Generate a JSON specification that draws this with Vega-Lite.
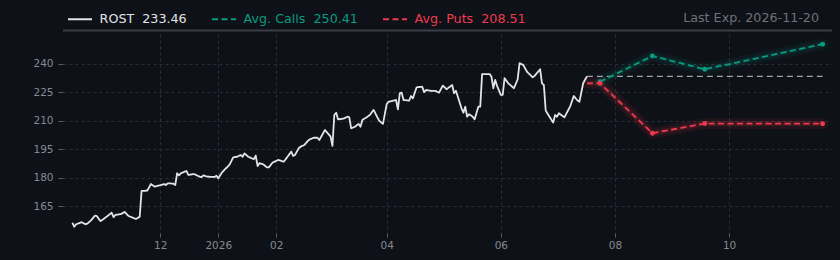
{
  "$schema": "https://vega.github.io/schema/vega-lite/v6.json",
  "autosize": {"type": "none"},
  "padding": {"left": 63, "top": 34, "right": 8, "bottom": 27},
  "width": 769,
  "height": 199,
  "background": "#0e1117",
  "config": {
    "view": {"stroke": null},
    "font": "DejaVu Sans",
    "axis": {
      "labelFont": "DejaVu Sans",
      "labelFontSize": 10.5,
      "labelColor": "#878a92",
      "gridColor": "#2a2d35",
      "gridDash": [3, 3],
      "gridWidth": 1,
      "tickColor": "#5a5d64",
      "tickSize": 5,
      "domain": false,
      "title": null
    }
  },
  "title": {
    "text": "Last Exp. 2026-11-20",
    "anchor": "end",
    "frame": "group",
    "orient": "top",
    "offset": 12,
    "dx": -13,
    "dy": 41,
    "baseline": "alphabetic",
    "font": "DejaVu Sans",
    "fontSize": 12.7,
    "fontWeight": "normal",
    "color": "#6e7179"
  },
  "datasets": {
    "series": [
      {"date": "2025-10-15", "value": 156.3, "series": "ROST\u00a0 233.46"},
      {"date": "2025-10-16", "value": 154.2, "series": "ROST\u00a0 233.46"},
      {"date": "2025-10-17", "value": 155.5, "series": "ROST\u00a0 233.46"},
      {"date": "2025-10-20", "value": 156.6, "series": "ROST\u00a0 233.46"},
      {"date": "2025-10-22", "value": 155.5, "series": "ROST\u00a0 233.46"},
      {"date": "2025-10-23", "value": 155.8, "series": "ROST\u00a0 233.46"},
      {"date": "2025-10-25", "value": 157.6, "series": "ROST\u00a0 233.46"},
      {"date": "2025-10-27", "value": 160.0, "series": "ROST\u00a0 233.46"},
      {"date": "2025-10-28", "value": 159.9, "series": "ROST\u00a0 233.46"},
      {"date": "2025-10-30", "value": 157.2, "series": "ROST\u00a0 233.46"},
      {"date": "2025-10-31", "value": 157.8, "series": "ROST\u00a0 233.46"},
      {"date": "2025-11-03", "value": 160.0, "series": "ROST\u00a0 233.46"},
      {"date": "2025-11-05", "value": 161.6, "series": "ROST\u00a0 233.46"},
      {"date": "2025-11-06", "value": 159.3, "series": "ROST\u00a0 233.46"},
      {"date": "2025-11-07", "value": 160.4, "series": "ROST\u00a0 233.46"},
      {"date": "2025-11-10", "value": 160.9, "series": "ROST\u00a0 233.46"},
      {"date": "2025-11-12", "value": 162.0, "series": "ROST\u00a0 233.46"},
      {"date": "2025-11-14", "value": 159.9, "series": "ROST\u00a0 233.46"},
      {"date": "2025-11-17", "value": 158.7, "series": "ROST\u00a0 233.46"},
      {"date": "2025-11-18", "value": 158.3, "series": "ROST\u00a0 233.46"},
      {"date": "2025-11-20", "value": 159.5, "series": "ROST\u00a0 233.46"},
      {"date": "2025-11-21", "value": 173.1, "series": "ROST\u00a0 233.46"},
      {"date": "2025-11-24", "value": 173.2, "series": "ROST\u00a0 233.46"},
      {"date": "2025-11-26", "value": 176.7, "series": "ROST\u00a0 233.46"},
      {"date": "2025-11-28", "value": 175.3, "series": "ROST\u00a0 233.46"},
      {"date": "2025-12-01", "value": 176.1, "series": "ROST\u00a0 233.46"},
      {"date": "2025-12-03", "value": 176.7, "series": "ROST\u00a0 233.46"},
      {"date": "2025-12-04", "value": 176.2, "series": "ROST\u00a0 233.46"},
      {"date": "2025-12-05", "value": 177.1, "series": "ROST\u00a0 233.46"},
      {"date": "2025-12-08", "value": 176.9, "series": "ROST\u00a0 233.46"},
      {"date": "2025-12-09", "value": 176.2, "series": "ROST\u00a0 233.46"},
      {"date": "2025-12-10", "value": 182.4, "series": "ROST\u00a0 233.46"},
      {"date": "2025-12-11", "value": 181.3, "series": "ROST\u00a0 233.46"},
      {"date": "2025-12-12", "value": 182.4, "series": "ROST\u00a0 233.46"},
      {"date": "2025-12-15", "value": 183.6, "series": "ROST\u00a0 233.46"},
      {"date": "2025-12-16", "value": 181.5, "series": "ROST\u00a0 233.46"},
      {"date": "2025-12-19", "value": 182.0, "series": "ROST\u00a0 233.46"},
      {"date": "2025-12-22", "value": 180.6, "series": "ROST\u00a0 233.46"},
      {"date": "2025-12-23", "value": 180.3, "series": "ROST\u00a0 233.46"},
      {"date": "2025-12-24", "value": 181.3, "series": "ROST\u00a0 233.46"},
      {"date": "2025-12-26", "value": 180.6, "series": "ROST\u00a0 233.46"},
      {"date": "2025-12-30", "value": 180.4, "series": "ROST\u00a0 233.46"},
      {"date": "2025-12-31", "value": 181.1, "series": "ROST\u00a0 233.46"},
      {"date": "2026-01-01", "value": 179.7, "series": "ROST\u00a0 233.46"},
      {"date": "2026-01-03", "value": 182.9, "series": "ROST\u00a0 233.46"},
      {"date": "2026-01-06", "value": 185.9, "series": "ROST\u00a0 233.46"},
      {"date": "2026-01-07", "value": 186.9, "series": "ROST\u00a0 233.46"},
      {"date": "2026-01-09", "value": 190.8, "series": "ROST\u00a0 233.46"},
      {"date": "2026-01-11", "value": 191.1, "series": "ROST\u00a0 233.46"},
      {"date": "2026-01-13", "value": 192.0, "series": "ROST\u00a0 233.46"},
      {"date": "2026-01-14", "value": 191.1, "series": "ROST\u00a0 233.46"},
      {"date": "2026-01-15", "value": 192.9, "series": "ROST\u00a0 233.46"},
      {"date": "2026-01-17", "value": 191.1, "series": "ROST\u00a0 233.46"},
      {"date": "2026-01-20", "value": 189.8, "series": "ROST\u00a0 233.46"},
      {"date": "2026-01-21", "value": 191.7, "series": "ROST\u00a0 233.46"},
      {"date": "2026-01-22", "value": 186.2, "series": "ROST\u00a0 233.46"},
      {"date": "2026-01-23", "value": 187.7, "series": "ROST\u00a0 233.46"},
      {"date": "2026-01-25", "value": 187.1, "series": "ROST\u00a0 233.46"},
      {"date": "2026-01-27", "value": 185.5, "series": "ROST\u00a0 233.46"},
      {"date": "2026-01-28", "value": 185.5, "series": "ROST\u00a0 233.46"},
      {"date": "2026-01-30", "value": 188.0, "series": "ROST\u00a0 233.46"},
      {"date": "2026-02-02", "value": 189.4, "series": "ROST\u00a0 233.46"},
      {"date": "2026-02-05", "value": 188.5, "series": "ROST\u00a0 233.46"},
      {"date": "2026-02-07", "value": 191.1, "series": "ROST\u00a0 233.46"},
      {"date": "2026-02-09", "value": 193.8, "series": "ROST\u00a0 233.46"},
      {"date": "2026-02-10", "value": 191.5, "series": "ROST\u00a0 233.46"},
      {"date": "2026-02-11", "value": 192.0, "series": "ROST\u00a0 233.46"},
      {"date": "2026-02-13", "value": 195.6, "series": "ROST\u00a0 233.46"},
      {"date": "2026-02-14", "value": 196.4, "series": "ROST\u00a0 233.46"},
      {"date": "2026-02-16", "value": 197.3, "series": "ROST\u00a0 233.46"},
      {"date": "2026-02-18", "value": 199.6, "series": "ROST\u00a0 233.46"},
      {"date": "2026-02-19", "value": 200.3, "series": "ROST\u00a0 233.46"},
      {"date": "2026-02-21", "value": 201.1, "series": "ROST\u00a0 233.46"},
      {"date": "2026-02-23", "value": 201.1, "series": "ROST\u00a0 233.46"},
      {"date": "2026-02-24", "value": 199.9, "series": "ROST\u00a0 233.46"},
      {"date": "2026-02-27", "value": 205.2, "series": "ROST\u00a0 233.46"},
      {"date": "2026-03-01", "value": 202.9, "series": "ROST\u00a0 233.46"},
      {"date": "2026-03-02", "value": 201.7, "series": "ROST\u00a0 233.46"},
      {"date": "2026-03-03", "value": 196.8, "series": "ROST\u00a0 233.46"},
      {"date": "2026-03-04", "value": 213.1, "series": "ROST\u00a0 233.46"},
      {"date": "2026-03-05", "value": 214.3, "series": "ROST\u00a0 233.46"},
      {"date": "2026-03-06", "value": 210.8, "series": "ROST\u00a0 233.46"},
      {"date": "2026-03-09", "value": 211.2, "series": "ROST\u00a0 233.46"},
      {"date": "2026-03-11", "value": 212.2, "series": "ROST\u00a0 233.46"},
      {"date": "2026-03-12", "value": 211.9, "series": "ROST\u00a0 233.46"},
      {"date": "2026-03-13", "value": 206.1, "series": "ROST\u00a0 233.46"},
      {"date": "2026-03-15", "value": 206.9, "series": "ROST\u00a0 233.46"},
      {"date": "2026-03-17", "value": 208.4, "series": "ROST\u00a0 233.46"},
      {"date": "2026-03-18", "value": 206.9, "series": "ROST\u00a0 233.46"},
      {"date": "2026-03-19", "value": 210.5, "series": "ROST\u00a0 233.46"},
      {"date": "2026-03-21", "value": 211.7, "series": "ROST\u00a0 233.46"},
      {"date": "2026-03-23", "value": 213.1, "series": "ROST\u00a0 233.46"},
      {"date": "2026-03-25", "value": 215.8, "series": "ROST\u00a0 233.46"},
      {"date": "2026-03-27", "value": 211.9, "series": "ROST\u00a0 233.46"},
      {"date": "2026-03-28", "value": 210.1, "series": "ROST\u00a0 233.46"},
      {"date": "2026-03-30", "value": 208.4, "series": "ROST\u00a0 233.46"},
      {"date": "2026-04-01", "value": 218.8, "series": "ROST\u00a0 233.46"},
      {"date": "2026-04-02", "value": 220.1, "series": "ROST\u00a0 233.46"},
      {"date": "2026-04-06", "value": 221.0, "series": "ROST\u00a0 233.46"},
      {"date": "2026-04-07", "value": 216.1, "series": "ROST\u00a0 233.46"},
      {"date": "2026-04-08", "value": 224.6, "series": "ROST\u00a0 233.46"},
      {"date": "2026-04-09", "value": 224.9, "series": "ROST\u00a0 233.46"},
      {"date": "2026-04-10", "value": 221.0, "series": "ROST\u00a0 233.46"},
      {"date": "2026-04-13", "value": 220.7, "series": "ROST\u00a0 233.46"},
      {"date": "2026-04-14", "value": 223.1, "series": "ROST\u00a0 233.46"},
      {"date": "2026-04-15", "value": 221.9, "series": "ROST\u00a0 233.46"},
      {"date": "2026-04-17", "value": 227.7, "series": "ROST\u00a0 233.46"},
      {"date": "2026-04-20", "value": 228.0, "series": "ROST\u00a0 233.46"},
      {"date": "2026-04-21", "value": 225.1, "series": "ROST\u00a0 233.46"},
      {"date": "2026-04-22", "value": 226.3, "series": "ROST\u00a0 233.46"},
      {"date": "2026-04-24", "value": 225.9, "series": "ROST\u00a0 233.46"},
      {"date": "2026-04-27", "value": 225.8, "series": "ROST\u00a0 233.46"},
      {"date": "2026-04-29", "value": 224.9, "series": "ROST\u00a0 233.46"},
      {"date": "2026-05-01", "value": 228.6, "series": "ROST\u00a0 233.46"},
      {"date": "2026-05-03", "value": 226.7, "series": "ROST\u00a0 233.46"},
      {"date": "2026-05-06", "value": 228.9, "series": "ROST\u00a0 233.46"},
      {"date": "2026-05-07", "value": 224.6, "series": "ROST\u00a0 233.46"},
      {"date": "2026-05-08", "value": 225.9, "series": "ROST\u00a0 233.46"},
      {"date": "2026-05-09", "value": 222.8, "series": "ROST\u00a0 233.46"},
      {"date": "2026-05-11", "value": 216.6, "series": "ROST\u00a0 233.46"},
      {"date": "2026-05-12", "value": 214.3, "series": "ROST\u00a0 233.46"},
      {"date": "2026-05-13", "value": 217.5, "series": "ROST\u00a0 233.46"},
      {"date": "2026-05-14", "value": 212.2, "series": "ROST\u00a0 233.46"},
      {"date": "2026-05-15", "value": 213.5, "series": "ROST\u00a0 233.46"},
      {"date": "2026-05-17", "value": 212.2, "series": "ROST\u00a0 233.46"},
      {"date": "2026-05-18", "value": 210.8, "series": "ROST\u00a0 233.46"},
      {"date": "2026-05-20", "value": 217.5, "series": "ROST\u00a0 233.46"},
      {"date": "2026-05-21", "value": 217.5, "series": "ROST\u00a0 233.46"},
      {"date": "2026-05-22", "value": 234.7, "series": "ROST\u00a0 233.46"},
      {"date": "2026-05-26", "value": 234.7, "series": "ROST\u00a0 233.46"},
      {"date": "2026-05-27", "value": 233.3, "series": "ROST\u00a0 233.46"},
      {"date": "2026-05-28", "value": 227.2, "series": "ROST\u00a0 233.46"},
      {"date": "2026-05-29", "value": 231.6, "series": "ROST\u00a0 233.46"},
      {"date": "2026-05-30", "value": 228.4, "series": "ROST\u00a0 233.46"},
      {"date": "2026-06-01", "value": 223.7, "series": "ROST\u00a0 233.46"},
      {"date": "2026-06-02", "value": 223.7, "series": "ROST\u00a0 233.46"},
      {"date": "2026-06-03", "value": 232.5, "series": "ROST\u00a0 233.46"},
      {"date": "2026-06-05", "value": 229.8, "series": "ROST\u00a0 233.46"},
      {"date": "2026-06-08", "value": 227.2, "series": "ROST\u00a0 233.46"},
      {"date": "2026-06-10", "value": 231.9, "series": "ROST\u00a0 233.46"},
      {"date": "2026-06-11", "value": 240.4, "series": "ROST\u00a0 233.46"},
      {"date": "2026-06-13", "value": 239.5, "series": "ROST\u00a0 233.46"},
      {"date": "2026-06-15", "value": 235.9, "series": "ROST\u00a0 233.46"},
      {"date": "2026-06-18", "value": 233.0, "series": "ROST\u00a0 233.46"},
      {"date": "2026-06-19", "value": 233.7, "series": "ROST\u00a0 233.46"},
      {"date": "2026-06-22", "value": 237.2, "series": "ROST\u00a0 233.46"},
      {"date": "2026-06-23", "value": 229.8, "series": "ROST\u00a0 233.46"},
      {"date": "2026-06-24", "value": 228.9, "series": "ROST\u00a0 233.46"},
      {"date": "2026-06-25", "value": 215.4, "series": "ROST\u00a0 233.46"},
      {"date": "2026-06-27", "value": 212.2, "series": "ROST\u00a0 233.46"},
      {"date": "2026-06-29", "value": 209.1, "series": "ROST\u00a0 233.46"},
      {"date": "2026-06-30", "value": 213.1, "series": "ROST\u00a0 233.46"},
      {"date": "2026-07-01", "value": 212.2, "series": "ROST\u00a0 233.46"},
      {"date": "2026-07-02", "value": 214.0, "series": "ROST\u00a0 233.46"},
      {"date": "2026-07-05", "value": 211.9, "series": "ROST\u00a0 233.46"},
      {"date": "2026-07-08", "value": 217.5, "series": "ROST\u00a0 233.46"},
      {"date": "2026-07-10", "value": 223.1, "series": "ROST\u00a0 233.46"},
      {"date": "2026-07-12", "value": 220.7, "series": "ROST\u00a0 233.46"},
      {"date": "2026-07-13", "value": 220.1, "series": "ROST\u00a0 233.46"},
      {"date": "2026-07-14", "value": 224.9, "series": "ROST\u00a0 233.46"},
      {"date": "2026-07-15", "value": 229.8, "series": "ROST\u00a0 233.46"},
      {"date": "2026-07-17", "value": 233.46, "series": "ROST\u00a0 233.46"},
      {"date": "2026-07-24", "value": 230.6, "series": "Avg. Calls\u00a0 250.41"},
      {"date": "2026-08-21", "value": 244.2, "series": "Avg. Calls\u00a0 250.41"},
      {"date": "2026-09-18", "value": 237.2, "series": "Avg. Calls\u00a0 250.41"},
      {"date": "2026-11-20", "value": 250.41, "series": "Avg. Calls\u00a0 250.41"},
      {"date": "2026-07-17", "value": 229.8, "series": "Avg. Puts\u00a0 208.51"},
      {"date": "2026-07-24", "value": 229.8, "series": "Avg. Puts\u00a0 208.51"},
      {"date": "2026-08-21", "value": 203.5, "series": "Avg. Puts\u00a0 208.51"},
      {"date": "2026-09-18", "value": 208.6, "series": "Avg. Puts\u00a0 208.51"},
      {"date": "2026-11-20", "value": 208.51, "series": "Avg. Puts\u00a0 208.51"}
    ],
    "current": [
      {"start": "2026-07-17", "end": "2026-11-20", "price": 233.46}
    ],
    "header": [
      {"from": "2025-10-10", "to": "2026-11-25", "level": 257.66}
    ]
  },
  "encoding": {
    "x": {
      "field": "date",
      "type": "temporal",
      "scale": {
        "type": "utc",
        "domain": [
          {"year": 2025, "month": 10, "date": 10, "utc": true},
          {"year": 2026, "month": 11, "date": 25, "utc": true}
        ]
      },
      "axis": {
        "values": [
          {"year": 2025, "month": 12, "date": 1, "utc": true},
          {"year": 2026, "month": 1, "date": 1, "utc": true},
          {"year": 2026, "month": 2, "date": 1, "utc": true},
          {"year": 2026, "month": 4, "date": 1, "utc": true},
          {"year": 2026, "month": 6, "date": 1, "utc": true},
          {"year": 2026, "month": 8, "date": 1, "utc": true},
          {"year": 2026, "month": 10, "date": 1, "utc": true}
        ],
        "labelExpr": "utcFormat(datum.value, '%m') == '01' ? utcFormat(datum.value, '%Y') : utcFormat(datum.value, '%m')",
        "labelOverlap": false,
        "labelFlush": false,
        "labelPadding": 3,
        "tickSize": 4,
        "grid": true
      }
    },
    "y": {
      "field": "value",
      "type": "quantitative",
      "scale": {"domain": [150.9, 255.8], "nice": false, "zero": false},
      "axis": {"values": [165, 180, 195, 210, 225, 240], "labelPadding": 5, "labelOverlap": false, "grid": true}
    }
  },
  "layer": [
    {
      "data": {"name": "series"},
      "transform": [{"filter": "indexof(datum.series, 'Calls') >= 0"}],
      "mark": {"type": "line", "strokeWidth": 11, "opacity": 0.08, "color": "#0a9b80", "strokeCap": "round", "strokeJoin": "round"}
    },
    {
      "data": {"name": "series"},
      "transform": [{"filter": "indexof(datum.series, 'Puts') >= 0"}],
      "mark": {"type": "line", "strokeWidth": 11, "opacity": 0.09, "color": "#ef3a4e", "strokeCap": "round", "strokeJoin": "round"}
    },
    {
      "data": {"name": "series"},
      "transform": [{"filter": "indexof(datum.series, 'Calls') >= 0"}],
      "mark": {"type": "line", "strokeWidth": 5, "opacity": 0.12, "color": "#0a9b80", "strokeJoin": "round"}
    },
    {
      "data": {"name": "series"},
      "transform": [{"filter": "indexof(datum.series, 'Puts') >= 0"}],
      "mark": {"type": "line", "strokeWidth": 5, "opacity": 0.13, "color": "#ef3a4e", "strokeJoin": "round"}
    },
    {
      "data": {"name": "current"},
      "mark": {"type": "rule", "color": "#a3a5aa", "strokeWidth": 1.4, "strokeDash": [6, 4]},
      "encoding": {
        "x": {"field": "start", "type": "temporal"},
        "x2": {"field": "end"},
        "y": {"field": "price", "type": "quantitative"}
      }
    },
    {
      "data": {"name": "header"},
      "mark": {"type": "rule", "color": "#3b3e45", "strokeWidth": 2},
      "encoding": {
        "x": {"field": "from", "type": "temporal"},
        "x2": {"field": "to"},
        "y": {"field": "level", "type": "quantitative"}
      }
    },
    {
      "data": {"name": "series"},
      "mark": {"type": "line", "strokeWidth": 1.8, "strokeJoin": "round"},
      "encoding": {
        "color": {
          "field": "series",
          "type": "nominal",
          "scale": {
            "domain": ["ROST\u00a0 233.46", "Avg. Calls\u00a0 250.41", "Avg. Puts\u00a0 208.51"],
            "range": ["#e4e4e6", "#0a9b80", "#ef3a4e"]
          },
          "legend": {
            "title": null,
            "orient": "none",
            "legendX": 4,
            "legendY": -28,
            "direction": "horizontal",
            "symbolType": "stroke",
            "symbolSize": 576,
            "symbolStrokeWidth": 2,
            "labelFont": "DejaVu Sans",
            "labelFontSize": 12.7,
            "labelOffset": 6.6,
            "labelLimit": 300,
            "columnPadding": 21,
            "padding": 0,
            "encode": {"labels": {"update": {"fill": {"scale": "color", "field": "value"}}}}
          }
        },
        "strokeDash": {
          "field": "series",
          "type": "nominal",
          "scale": {
            "domain": ["ROST\u00a0 233.46", "Avg. Calls\u00a0 250.41", "Avg. Puts\u00a0 208.51"],
            "range": [[1, 0], [6, 3.5], [6, 3.5]]
          },
          "legend": {
            "title": null,
            "orient": "none",
            "legendX": 4,
            "legendY": -28,
            "direction": "horizontal",
            "symbolType": "stroke",
            "symbolSize": 576,
            "symbolStrokeWidth": 2,
            "labelFont": "DejaVu Sans",
            "labelFontSize": 12.7,
            "labelOffset": 6.6,
            "labelLimit": 300,
            "columnPadding": 21,
            "padding": 0,
            "encode": {"labels": {"update": {"fill": {"scale": "color", "field": "value"}}}}
          }
        }
      }
    },
    {
      "data": {"name": "series"},
      "transform": [
        {"filter": "indexof(datum.series, 'Calls') >= 0"},
        {"filter": "time(datum.date) > utc(2026, 6, 20)"}
      ],
      "mark": {"type": "point", "filled": true, "size": 24, "opacity": 1, "color": "#0a9b80"}
    },
    {
      "data": {"name": "series"},
      "transform": [
        {"filter": "indexof(datum.series, 'Puts') >= 0"},
        {"filter": "time(datum.date) > utc(2026, 6, 20)"}
      ],
      "mark": {"type": "point", "filled": true, "size": 24, "opacity": 1, "color": "#ef3a4e"}
    }
  ]
}
